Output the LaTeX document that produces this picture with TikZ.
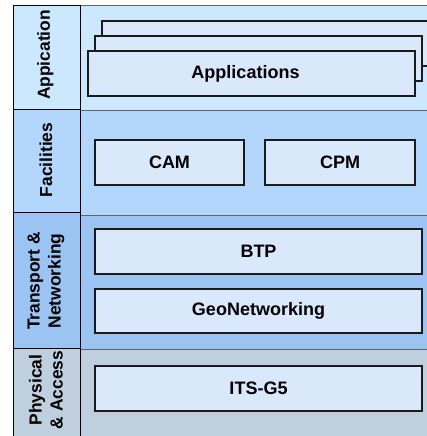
\documentclass[tikz,border=0pt]{standalone}
\usepackage{fontspec}
\setmainfont{Liberation Sans}
\definecolor{appbg}{RGB}{204,232,255}
\definecolor{facbg}{RGB}{179,214,252}
\definecolor{trbg}{RGB}{155,196,242}
\definecolor{phbg}{RGB}{192,207,221}
\definecolor{boxfill}{RGB}{218,232,252}
\definecolor{boxline}{RGB}{26,26,26}
\definecolor{panelline}{RGB}{100,100,100}
\begin{document}
\begin{tikzpicture}[x=1pt,y=-1pt,
  every node/.style={font=\fontsize{18}{21}\selectfont\bfseries},
  layerbox/.style={draw=boxline,line width=1.3pt,fill=boxfill,minimum height=45pt,inner sep=0pt},
  cellbox/.style={draw=black,line width=0.9pt},
  panelbox/.style={draw=panelline,line width=0.8pt},
  sidelabel/.style={rotate=90,align=center,font=\fontsize{17.4}{21}\selectfont\bfseries}]
\useasboundingbox (0,0) rectangle (427,436);
\clip (0,0) rectangle (427,436);
% right panels
\draw[panelbox,fill=appbg] (80,5) rectangle (440,110);
\draw[panelbox,fill=facbg] (80,110) rectangle (440,215);
\draw[panelbox,fill=trbg] (80,215) rectangle (440,349);
\draw[panelbox,fill=phbg] (80,349) rectangle (440,445);
% left cells
\draw[cellbox,fill=appbg] (13,5) rectangle (80,109);
\draw[cellbox,fill=facbg] (13,109) rectangle (80,212);
\draw[cellbox,fill=trbg] (13,212) rectangle (80,348);
\draw[cellbox,fill=phbg] (13,348) rectangle (80,445);
% side labels
\node[sidelabel] (lapp) at (45.5,55) {Appication};
\node[sidelabel] (lfac) at (46,160) {Facilities};
\node[sidelabel] (ltr) at (46,281) {Transport \&\\Networking};
\node[sidelabel] (lph) at (46,390) {Physical\\\& Access};
% application stack
\node[layerbox,minimum width=327pt] (app3) at (265.5,43.5) {};
\node[layerbox,minimum width=327pt] (app2) at (258.5,58.5) {};
\node[layerbox,minimum width=327pt,text width=315pt,align=center] (app1) at (251.5,73.5) {\hspace*{-12pt}Applications};
% facilities
\node[layerbox,minimum width=149pt] (cam) at (169.5,162.5) {CAM};
\node[layerbox,minimum width=150pt] (cpm) at (340,162.5) {CPM};
% transport
\node[layerbox,minimum width=327pt] (btp) at (258.5,251.5) {BTP};
\node[layerbox,minimum width=327pt,minimum height=44pt] (geo) at (258.5,311) {GeoNetworking};
% physical
\node[layerbox,minimum width=327pt] (its) at (258.5,388.5) {ITS-G5};
\end{tikzpicture}
\end{document}
